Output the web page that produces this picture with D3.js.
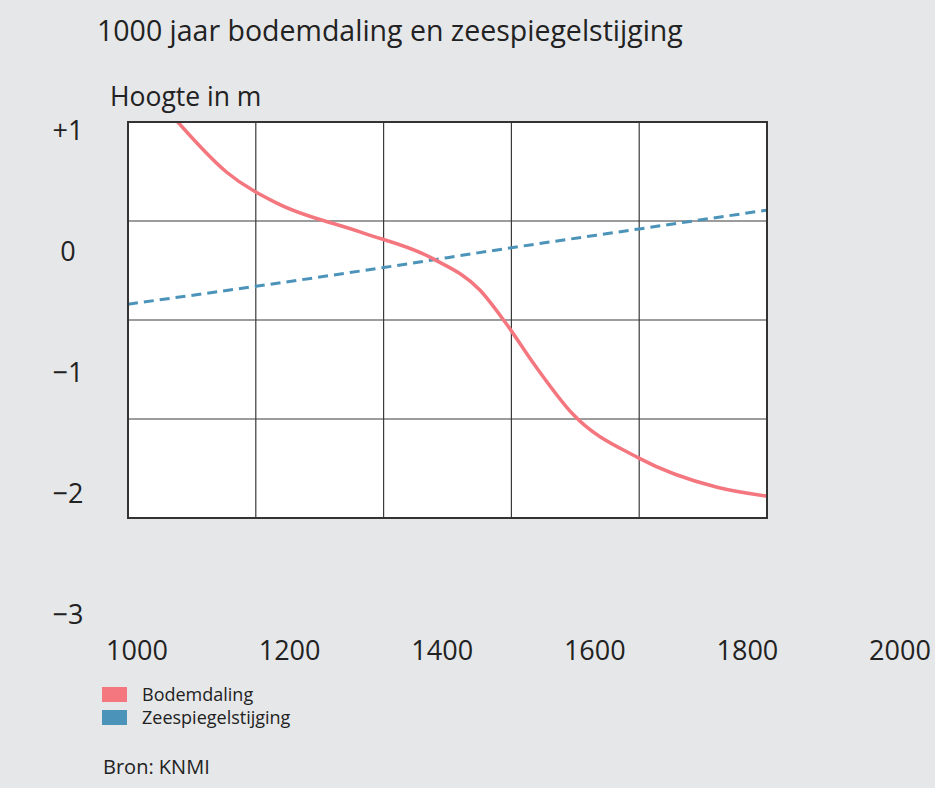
<!DOCTYPE html>
<html><head><meta charset="utf-8">
<script src="https://cdn.jsdelivr.net/npm/d3@7"></script>
<style>
body{margin:0;background:#e6e7e9;}
svg{display:block;font-family:'Open Sans',sans-serif;}
</style>
</head><body>
<svg id="c" width="935" height="788"></svg>
<script>
// Data
const bodemYears = [1078,1155,1233,1363,1477,1551,1590,1637,1696,1798,1922,2000];
const bodemdaling = [1.00,0.49,0.18,-0.11,-0.38,-0.70,-1.02,-1.46,-1.95,-2.39,-2.69,-2.78];
const zeeYears = [1000,1200,1400,1600,1800,2000];
const zeespiegel = [-0.84,-0.66,-0.47,-0.27,-0.08,0.11];
const xTickLabels = [1000,1200,1400,1600,1800,2000];
const yTickLabels = [1,0,-1,-2,-3];
const seriesNames = ["Bodemdaling","Zeespiegelstijging"];
const seriesColors = ["#f4767e","#4b93b9"];

const svg = d3.select("#c");
const W = 935, H = 788;
svg.append("rect").attr("width",W).attr("height",H).attr("fill","#e6e7e9");

const x = d3.scaleLinear().domain([1000,2000]).range([128,767]);
const y = d3.scaleLinear().domain([1,-3]).range([122,518]);
// label placement scales (labels in the original are offset from the grid)
const xl = d3.scaleLinear().domain([1000,2000]).range([137,900]);
const yl = d3.scaleLinear().domain([1,-3]).range([131,615]);

// Title
svg.append("text").attr("x",97).attr("y",41).attr("font-size",28.5).attr("fill","#222")
  .text("1000 jaar bodemdaling en zeespiegelstijging");
svg.append("text").attr("x",110).attr("y",106).attr("font-size",26.5).attr("fill","#222")
  .text("Hoogte in m");

// Plot background
svg.append("rect").attr("x",x(1000)).attr("y",y(1)).attr("width",x(2000)-x(1000)).attr("height",y(-3)-y(1))
  .attr("fill","#fff");

// grid
const g = svg.append("g");
g.selectAll("line.v").data(xTickLabels.slice(1,-1)).join("line")
  .attr("x1",d=>x(d)).attr("x2",d=>x(d)).attr("y1",y(1)).attr("y2",y(-3))
  .attr("stroke","#3a3a3a").attr("stroke-width",1.2);
g.selectAll("line.h").data(yTickLabels.slice(1,-1)).join("line")
  .attr("y1",d=>y(d)).attr("y2",d=>y(d)).attr("x1",x(1000)).attr("x2",x(2000))
  .attr("stroke","#3a3a3a").attr("stroke-width",1.2);

// lines
svg.append("clipPath").attr("id","clip").append("rect")
  .attr("x",x(1000)).attr("y",y(1)).attr("width",x(2000)-x(1000)).attr("height",y(-3)-y(1));
const line = d3.line().x(d=>x(d[0])).y(d=>y(d[1])).curve(d3.curveMonotoneX);
svg.append("path").datum(zeeYears.map((d,i)=>[d,zeespiegel[i]]))
  .attr("d",line).attr("fill","none").attr("stroke",seriesColors[1]).attr("stroke-width",3)
  .attr("stroke-dasharray","10,6").attr("clip-path","url(#clip)");
svg.append("path").datum(bodemYears.map((d,i)=>[d,bodemdaling[i]]))
  .attr("d",line).attr("fill","none").attr("stroke",seriesColors[0]).attr("stroke-width",3.5)
  .attr("clip-path","url(#clip)");

// border
svg.append("rect").attr("x",x(1000)).attr("y",y(1)).attr("width",x(2000)-x(1000)).attr("height",y(-3)-y(1))
  .attr("fill","none").attr("stroke","#333").attr("stroke-width",2);

// axis labels
svg.selectAll("text.yl").data(yTickLabels).join("text")
  .attr("x",68).attr("y",d=>yl(d)).attr("dy","0.35em").attr("text-anchor","middle")
  .attr("font-size",27).attr("fill","#222")
  .text(d=> d>0 ? "+"+d : (d<0 ? "\u2212"+Math.abs(d) : d));
svg.selectAll("text.xl").data(xTickLabels).join("text")
  .attr("x",d=>xl(d)).attr("y",651).attr("dy","0.35em").attr("text-anchor","middle")
  .attr("font-size",27).attr("fill","#222").text(d=>d);

// legend
const lg = svg.append("g");
seriesNames.forEach((n,i)=>{
  lg.append("rect").attr("x",102).attr("y",687+i*23).attr("width",25).attr("height",15).attr("fill",seriesColors[i]);
  lg.append("text").attr("x",142).attr("y",701+i*23).attr("font-size",18).attr("fill","#222").text(n);
});
svg.append("text").attr("x",103).attr("y",774).attr("font-size",20).attr("fill","#222").text("Bron: KNMI");
</script>
</body></html>
